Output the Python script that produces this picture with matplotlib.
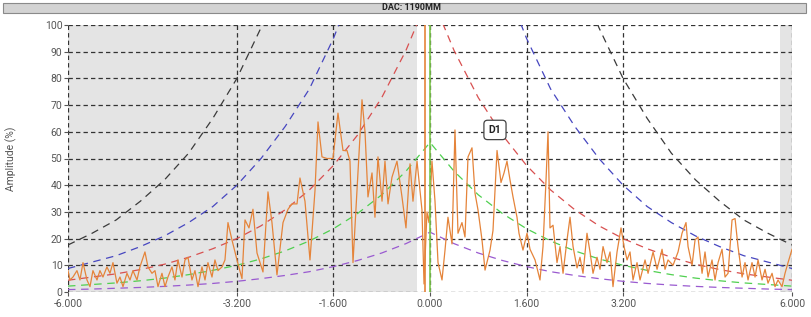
import numpy as np
import matplotlib
matplotlib.use("Agg")
import matplotlib.pyplot as plt
from matplotlib.patches import Rectangle

plt.rcParams['font.family'] = ['Roboto', 'DejaVu Sans']

# distance from centre at which the DAC curves were read
dac_dist = [0.0, 0.4, 0.8, 1.2, 1.6, 2.0, 2.4, 2.8, 3.2, 3.6, 4.0, 4.4, 4.8, 5.2, 5.6, 6.0]
dac_purple = [22.4, 18.1, 14.6, 11.8, 9.5, 7.6, 6.2, 5.0, 4.0, 3.2, 2.6, 2.1, 1.7, 1.4, 1.1, 0.9]
dac_green = [56, 45.2, 36.4, 29.4, 23.7, 19.1, 15.4, 12.4, 10.0, 8.1, 6.5, 5.2, 4.2, 3.4, 2.8, 2.2]
dac_red = [112, 90.4, 72.8, 58.8, 47.4, 38.2, 30.8, 24.8, 20.0, 16.2, 13.0, 10.4, 8.4, 6.8, 5.6, 4.4]
dac_blue = [224, 181, 146, 118, 95, 76, 62, 50, 40, 32, 26, 21, 17, 13.6, 11.2, 8.8]
dac_black = [448, 362, 291, 235, 190, 153, 123, 99, 80, 65, 52, 42, 34, 27, 22, 17.6]

# A-scan signal
sig_x = [-6.000, -5.967, -5.917, -5.851, -5.801, -5.751, -5.685, -5.635, -5.586, -5.519,
         -5.470, -5.420, -5.354, -5.304, -5.254, -5.188, -5.138, -5.088, -5.022, -4.972,
         -4.923, -4.856, -4.807, -4.724, -4.674, -4.608, -4.558, -4.508, -4.442, -4.392,
         -4.343, -4.276, -4.227, -4.177, -4.110, -4.061, -4.011, -3.945, -3.895, -3.845,
         -3.779, -3.729, -3.680, -3.613, -3.564, -3.514, -3.447, -3.398, -3.348, -3.282,
         -3.199, -3.116, -3.066, -3.000, -2.934, -2.867, -2.768, -2.685, -2.619, -2.536,
         -2.436, -2.353, -2.287, -2.204, -2.155, -2.072, -1.989, -1.906, -1.856, -1.790,
         -1.707, -1.608, -1.525, -1.442, -1.376, -1.326, -1.276, -1.210, -1.127, -1.077,
         -1.028, -0.961, -0.912, -0.862, -0.795, -0.746, -0.696, -0.630, -0.547, -0.464,
         -0.398, -0.331, -0.282, -0.215, -0.133, -0.099, -0.050, -0.017, 0.033, 0.083,
         0.133, 0.199, 0.249, 0.298, 0.365, 0.414, 0.464, 0.530, 0.580, 0.630,
         0.696, 0.746, 0.796, 0.862, 0.912, 0.995, 1.044, 1.111, 1.177, 1.227,
         1.276, 1.326, 1.376, 1.442, 1.475, 1.541, 1.608, 1.658, 1.741, 1.823,
         1.873, 1.923, 1.956, 1.989, 2.039, 2.105, 2.155, 2.205, 2.271, 2.321,
         2.371, 2.437, 2.486, 2.536, 2.602, 2.652, 2.702, 2.768, 2.818, 2.868,
         2.934, 2.984, 3.033, 3.100, 3.166, 3.216, 3.266, 3.315, 3.365, 3.431,
         3.481, 3.564, 3.614, 3.697, 3.763, 3.846, 3.895, 3.945, 4.028, 4.111,
         4.177, 4.243, 4.277, 4.343, 4.393, 4.442, 4.509, 4.558, 4.608, 4.674,
         4.724, 4.774, 4.840, 4.890, 4.940, 5.006, 5.056, 5.105, 5.172, 5.221,
         5.271, 5.337, 5.387, 5.437, 5.503, 5.553, 5.602, 5.669, 5.718, 5.768,
         5.834, 5.884, 5.934, 6.000]
sig_y = [8, 4.5, 5.6, 8, 4.5, 11, 4.5, 2, 8, 4.5,
         8, 5.6, 9.4, 7, 11, 3.3, 5.6, 2, 7, 4.5,
         8, 4.5, 9.4, 15, 9.4, 7, 8, 2, 7, 2,
         5.6, 9.4, 4.5, 12, 5.6, 12, 13, 4.5, 8, 2,
         9.4, 4.5, 11, 5.6, 12, 8, 9.4, 12, 26, 19.5,
         12, 5, 27, 24, 31, 14.6, 7.5, 37.5, 26, 6.4,
         26, 31, 33, 33, 42.7, 34, 12, 38, 63.7, 50.6,
         50, 50, 67, 53, 53, 49, 11, 38, 72, 60,
         35.6, 44.6, 28, 50.6, 34, 49, 33, 43, 49, 35.6,
         24, 48, 34, 49, 30.7, 3, 30, 26, 49, 34,
         11, 4.5, 15.7, 28, 18, 60.7, 22, 26, 20.6, 50.6,
         54, 37, 30.7, 19.5, 8.2, 15.7, 23, 53, 41, 44.6,
         49, 42, 35.6, 28, 22, 15.7, 22, 16, 12, 4.5,
         17, 42, 60, 24, 25, 11, 17, 7, 19.5, 28,
         17, 9, 13, 7, 22, 15, 7, 13, 8.5, 17,
         11, 15, 2, 15, 24, 17, 12, 15, 4.5, 11,
         4.5, 12, 7, 15, 8.5, 16, 8.5, 12, 10, 15,
         22, 26, 17, 10, 19.5, 20.6, 7, 15, 5.6, 12,
         4.5, 11, 16, 5.6, 7, 27, 27.5, 17, 5.6, 11,
         4.5, 11, 5.6, 12, 4.5, 8.5, 3.3, 7, 2, 4.5,
         2, 7, 11, 16]

x_ticks = [-6.0, -3.2, -1.6, 0.0, 1.6, 3.2, 6.0]
y_ticks = [0, 10, 20, 30, 40, 50, 60, 70, 80, 90, 100]
gate_ranges = [(-6.0, -0.215), (5.80, 6.0)]
cursor_orange = -0.083
cursor_green = 0.0
marker_pos = (1.077, 60.7)

fig = plt.figure(figsize=(8.11, 3.17), dpi=100)
fig.patch.set_facecolor('white')

# title bar
fig.patches.append(Rectangle((0.004, 0.959), 0.99, 0.032, transform=fig.transFigure,
                             facecolor='#d3d3d3', edgecolor='#8a8a8a', linewidth=0.8))
fig.text(0.508, 0.975, 'DAC: 1190MM', ha='center', va='center', fontsize=6.5,
         fontweight='bold', color='#222222')

ax = fig.add_axes([0.0838, 0.0789, 0.8928, 0.8422])
ax.set_xlim(-6, 6)
ax.set_ylim(0, 100)

for a, b in gate_ranges:
    ax.axvspan(a, b, color='#e4e4e4', lw=0, zorder=0)

grid_style = dict(color='#333333', lw=0.9, linestyle=(0, (3.5, 2.5)), zorder=1)
for yv in y_ticks:
    ax.axhline(yv, **grid_style)
for xv in x_ticks:
    ax.axvline(xv, **grid_style)

d = np.array(dac_dist)
full_x = np.concatenate([-d[::-1], d[1:]])
curves = [(dac_black, '#3a3a3a'), (dac_blue, '#4646c0'), (dac_red, '#d85050'),
          (dac_green, '#50d050'), (dac_purple, '#9a5ad0')]
for vals, col in curves:
    v = np.array(vals)
    full_y = np.concatenate([v[::-1], v[1:]])
    ax.plot(full_x, full_y, color=col, lw=0.9, linestyle=(0, (6, 4.5)), zorder=2)

ax.plot(sig_x, sig_y, color='#e5843a', lw=0.9, zorder=3)

ax.axvline(cursor_orange, color='#e5843a', lw=1.2, zorder=4)
ax.axvline(cursor_green, color='#7cc84a', lw=1.2, zorder=4)

ax.text(marker_pos[0], marker_pos[1], 'D1', ha='center', va='center', fontsize=7.5,
        fontweight='bold', color='#222222', zorder=5,
        bbox=dict(boxstyle='round,pad=0.45,rounding_size=0.35', facecolor='white',
                  edgecolor='#444444', linewidth=0.9))

for s in ax.spines.values():
    s.set_visible(False)
ax.set_xticks(x_ticks)
ax.set_xticklabels(['%.3f' % t for t in x_ticks])
ax.set_yticks(y_ticks)
ax.tick_params(axis='both', labelsize=7.5, colors='#555555', length=3, width=0.8)
ax.tick_params(axis='x', pad=2)
ax.tick_params(axis='y', pad=1)
ax.set_ylabel('Amplitude (%)', fontsize=7.5, color='#555555', labelpad=20)

fig.savefig('out.png', dpi=100)
